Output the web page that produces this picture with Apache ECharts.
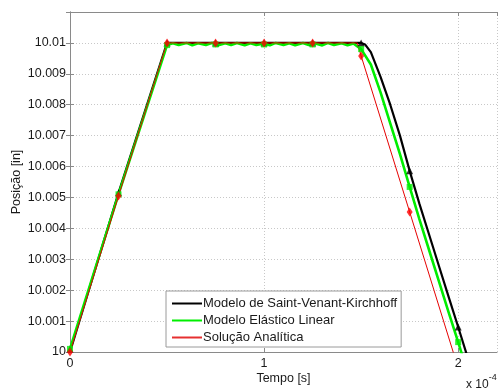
<!DOCTYPE html>
<html>
<head>
<meta charset="utf-8">
<script src="https://cdn.jsdelivr.net/npm/echarts@6/dist/echarts.min.js"></script>
<style>
  html, body { margin: 0; padding: 0; background: #fff; }
  #chart { width: 499px; height: 388px; }
</style>
</head>
<body>
<div id="chart"></div>
<script>
// Time in units of 1e-4 s, position in inches
const seriesNames = ['Modelo de Saint-Venant-Kirchhoff', 'Modelo Elástico Linear', 'Solução Analítica'];

// Saint-Venant-Kirchhoff model
const svkTime = [0, 0.25, 0.5, 0.75, 1.0, 1.25, 1.5, 1.52, 1.55, 1.6, 1.65, 1.7, 1.75, 1.8, 1.85, 1.9, 1.95, 2.0, 2.05];
const svkPos  = [10.0, 10.00515, 10.01, 10.01, 10.01, 10.01, 10.01, 10.00995, 10.0097, 10.0089, 10.0080, 10.0070, 10.00586, 10.0048, 10.0038, 10.0028, 10.0018, 10.00081, 9.9998];

// Linear elastic model (small oscillation along the plateau)
const linTime = [0, 0.25, 0.5, 0.53, 0.56, 0.6, 0.63, 0.66, 0.7, 0.73, 0.76, 0.8, 0.83, 0.86, 0.9, 0.93, 0.96, 1.0,
                 1.03, 1.06, 1.1, 1.13, 1.16, 1.2, 1.23, 1.26, 1.3, 1.33, 1.36, 1.4, 1.43, 1.46, 1.5,
                 1.55, 1.6, 1.65, 1.7, 1.75, 1.8, 1.85, 1.9, 1.95, 2.0, 2.05];
const linPos  = [10.0001, 10.0051, 10.00993, 10.00999, 10.00993, 10.01, 10.00992, 10.00999, 10.00993, 10.01, 10.00992, 10.00999, 10.00993, 10.01, 10.00992, 10.00999, 10.00993, 10.00998,
                 10.00992, 10.01, 10.00993, 10.00999, 10.00992, 10.01, 10.00993, 10.00999, 10.00992, 10.01, 10.00993, 10.00999, 10.00992, 10.00998, 10.0098,
                 10.0093, 10.0084, 10.0074, 10.0064, 10.00534, 10.0043, 10.0033, 10.0023, 10.0013, 10.00032, 9.9993];

// Analytical solution
const anaTime = [0, 0.25, 0.5, 0.75, 1.0, 1.25, 1.48, 1.5, 1.75, 2.0];
const anaPos  = [10.0, 10.00505, 10.01, 10.01, 10.01, 10.01, 10.01, 10.00958, 10.00453, 9.99948];

// Marker sample times (every 0.25)
const svkMarkT = [0, 0.25, 0.5, 0.75, 1.0, 1.25, 1.5, 1.75, 2.0];
const svkMarkV = [10.0001, 10.00515, 10.01, 10.01, 10.01, 10.01, 10.01, 10.00586, 10.00081];
const linMarkT = [0, 0.25, 0.5, 0.75, 1.0, 1.25, 1.5, 1.75, 2.0];
const linMarkV = [10.0001, 10.0051, 10.00993, 10.00995, 10.00995, 10.00995, 10.0098, 10.00534, 10.00032];
const anaMarkT = [0, 0.25, 0.5, 0.75, 1.0, 1.25, 1.5, 1.75];
const anaMarkV = [10.0, 10.00505, 10.01, 10.01, 10.01, 10.01, 10.00958, 10.00453];

const xTicks = [0, 1, 2];
const yTickLabels = ['10', '10.001', '10.002', '10.003', '10.004', '10.005', '10.006', '10.007', '10.008', '10.009', '10.01'];

const zip = (a, b) => a.map((t, i) => [t, b[i]]);

const FONT = 'Liberation Sans, Arial, sans-serif';
const AXIS_COLOR = '#8a8a8a';
const TEXT_COLOR = '#1a1a1a';

const chart = echarts.init(document.getElementById('chart'), null, { renderer: 'canvas' });

const gridLine = { show: true, lineStyle: { color: '#c8c8c8', type: [1, 2], width: 1 } };

chart.setOption({
  animation: false,
  textStyle: { fontFamily: FONT },
  grid: { left: 70, right: 2, top: 12, bottom: 36, containLabel: false, outerBoundsMode: 'none' },
  xAxis: [{
    type: 'value', min: 0, max: 2.2, interval: 1,
    name: 'Tempo [s]', nameLocation: 'middle', nameGap: 20, nameMoveOverlap: false,
    nameTextStyle: { color: TEXT_COLOR, fontSize: 12.5, fontFamily: FONT },
    axisLine: { show: true, lineStyle: { color: AXIS_COLOR } },
    axisTick: { show: true, inside: true, length: 4, lineStyle: { color: AXIS_COLOR } },
    axisLabel: {
      color: TEXT_COLOR, fontSize: 12.5, margin: 5, fontFamily: FONT,
      showMaxLabel: false,
      formatter: v => (xTicks.indexOf(Math.round(v * 1000) / 1000) >= 0 ? String(Math.round(v)) : '')
    },
    splitLine: gridLine
  }, {
    type: 'value', min: 0, max: 2.2, interval: 1, position: 'top',
    axisLine: { show: true, lineStyle: { color: AXIS_COLOR } },
    axisTick: { show: true, inside: true, length: 4, lineStyle: { color: AXIS_COLOR } },
    axisLabel: { show: false }, splitLine: { show: false }
  }],
  yAxis: [{
    type: 'value', min: 10, max: 10.011, interval: 0.001,
    name: 'Posição [in]', nameLocation: 'middle', nameGap: 47, nameRotate: 90, nameMoveOverlap: false,
    nameTextStyle: { color: TEXT_COLOR, fontSize: 12.5, fontFamily: FONT },
    axisLine: { show: true, lineStyle: { color: AXIS_COLOR } },
    axisTick: { show: true, inside: true, length: 4, lineStyle: { color: AXIS_COLOR } },
    axisLabel: {
      color: TEXT_COLOR, fontSize: 12.5, margin: 4, fontFamily: FONT,
      showMaxLabel: false,
      formatter: v => {
        const idx = Math.round((v - 10) * 1000);
        return idx >= 0 && idx < yTickLabels.length ? yTickLabels[idx] : '';
      }
    },
    splitLine: gridLine
  }, {
    type: 'value', min: 10, max: 10.011, interval: 0.001, position: 'right',
    axisLine: { show: true, lineStyle: { color: AXIS_COLOR } },
    axisTick: { show: true, inside: true, length: 4, lineStyle: { color: AXIS_COLOR } },
    axisLabel: { show: false }, splitLine: { show: false }
  }],
  legend: {
    data: [
      { name: seriesNames[0], icon: 'rect', itemStyle: { color: '#000' } },
      { name: seriesNames[1], icon: 'rect', itemStyle: { color: '#00ee00' } },
      { name: seriesNames[2], icon: 'rect', itemStyle: { color: '#e63030' } }
    ],
    orient: 'vertical',
    left: 166, top: 291,
    itemWidth: 30, itemHeight: 2, itemGap: 2,
    padding: [5, 4, 2, 6],
    backgroundColor: '#fff',
    borderColor: '#9a9a9a', borderWidth: 1, borderRadius: 0,
    textStyle: { color: TEXT_COLOR, fontSize: 13, fontFamily: FONT, padding: [0, 0, 0, -4], lineHeight: 15 },
    selectedMode: false
  },
  graphic: [{
    type: 'text',
    left: 466, top: 373,
    style: {
      text: '{b|x 10}{s|-4}',
      rich: {
        b: { fontSize: 12, fontFamily: FONT, fill: TEXT_COLOR, padding: [6, 0, 0, 0] },
        s: { fontSize: 9, fontFamily: FONT, fill: TEXT_COLOR, verticalAlign: 'top' }
      }
    }
  }],
  series: [
    {
      name: seriesNames[0], type: 'line', data: zip(svkTime, svkPos),
      symbol: 'none', smooth: false, clip: true,
      lineStyle: { color: '#000', width: 2.2 }, itemStyle: { color: '#000' }, z: 2
    },
    {
      name: seriesNames[1], type: 'line', data: zip(linTime, linPos),
      symbol: 'none', smooth: false, clip: true,
      lineStyle: { color: '#00ee00', width: 2.6 }, itemStyle: { color: '#00ee00' }, z: 3
    },
    {
      name: seriesNames[2], type: 'line', data: zip(anaTime, anaPos),
      symbol: 'none', smooth: false, clip: true,
      lineStyle: { color: '#e60000', width: 1 }, itemStyle: { color: '#e60000' }, z: 4
    },
    {
      name: 'svkMarkers', type: 'scatter', data: zip(svkMarkT, svkMarkV),
      symbol: 'triangle', symbolSize: 7, itemStyle: { color: '#000' }, z: 5
    },
    {
      name: 'linMarkers', type: 'scatter', data: zip(linMarkT, linMarkV),
      symbol: 'rect', symbolSize: 6, itemStyle: { color: '#00ee00' }, z: 6
    },
    {
      name: 'anaMarkers', type: 'scatter', data: zip(anaMarkT, anaMarkV),
      symbol: 'diamond', symbolSize: [6, 9], itemStyle: { color: '#ff0000' }, z: 7
    }
  ]
});
</script>
</body>
</html>
